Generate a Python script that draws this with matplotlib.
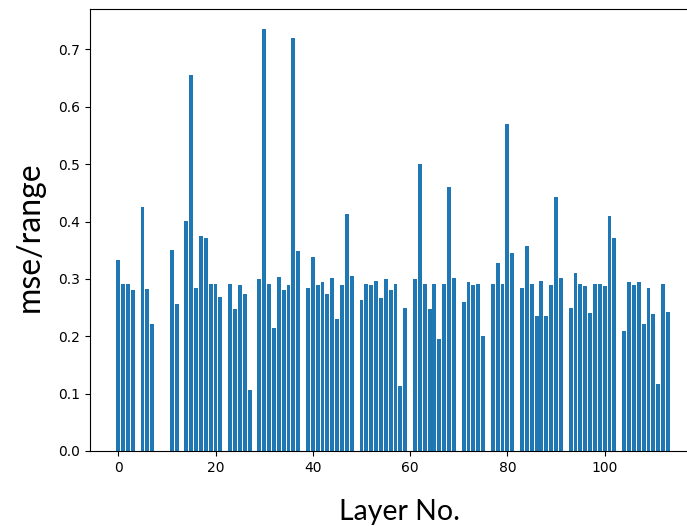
import matplotlib
matplotlib.use("Agg")
import matplotlib.pyplot as plt
import numpy as np

# per-layer error (mse / range); layers without a value are stored as 0.0
layer_values = [
    0.333, 0.291, 0.292, 0.281, 0.0, 0.425, 0.282, 0.222, 0.0, 0.0,    # 0-9
    0.0, 0.351, 0.257, 0.0, 0.401, 0.656, 0.285, 0.375, 0.371, 0.291,  # 10-19
    0.292, 0.269, 0.0, 0.291, 0.247, 0.289, 0.274, 0.106, 0.0, 0.299,  # 20-29
    0.736, 0.292, 0.214, 0.303, 0.281, 0.289, 0.720, 0.349, 0.0, 0.285,  # 30-39
    0.339, 0.289, 0.295, 0.273, 0.301, 0.231, 0.289, 0.414, 0.305, 0.0,  # 40-49
    0.264, 0.292, 0.289, 0.297, 0.267, 0.299, 0.281, 0.291, 0.114, 0.249,  # 50-59
    0.0, 0.299, 0.500, 0.292, 0.247, 0.292, 0.195, 0.291, 0.460, 0.301,  # 60-69
    0.0, 0.260, 0.295, 0.289, 0.291, 0.200, 0.0, 0.292, 0.327, 0.291,  # 70-79
    0.570, 0.345, 0.0, 0.285, 0.357, 0.292, 0.236, 0.296, 0.235, 0.289,  # 80-89
    0.443, 0.301, 0.0, 0.250, 0.310, 0.291, 0.287, 0.241, 0.292, 0.291,  # 90-99
    0.287, 0.409, 0.371, 0.0, 0.209, 0.295, 0.289, 0.295, 0.221, 0.285,  # 100-109
    0.239, 0.116, 0.292, 0.242,                                          # 110-113
]
layer_ids = np.arange(len(layer_values))

W, H = 687, 526
fig = plt.figure(figsize=(W / 100, H / 100), dpi=100)

# axes runs off the right edge of the canvas
left, right, top, bottom = 90, 697.6, 9, 451
ax = fig.add_axes([left / W, (H - bottom) / H, (right - left) / W, (bottom - top) / H])

ax.bar(layer_ids, layer_values, color="#1f77b4")
ax.set_xlim(-5.8, 119.1)
ax.set_ylim(0, 0.7706)
ax.set_xticks([0, 20, 40, 60, 80, 100])
ax.set_yticks(np.arange(0, 0.71, 0.1))
ax.tick_params(labelsize=10)

fig.text(30 / W, 1 - 237 / H, "mse/range", rotation=90, fontsize=23,
         family="Lato", ha="center", va="center")
fig.text(400 / W, 1 - 512 / H, "Layer No.", fontsize=20.5,
         family="Lato", ha="center", va="center")

fig.savefig("out.png", dpi=100)
